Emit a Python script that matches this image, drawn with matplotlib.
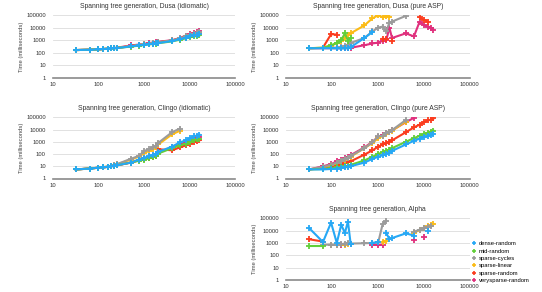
"""Spanning tree generation timings: Dusa / Clingo / Alpha panels."""

import matplotlib

matplotlib.use("Agg")
import matplotlib.pyplot as plt
import numpy as np
from matplotlib.lines import Line2D

nan = np.nan

sizes = [32, 64, 96, 128, 160, 192, 224, 256, 512, 768, 1024, 1280, 1536, 1792,
         2048, 4096, 6144, 8192, 10240, 12288, 14336, 16384]

series_names = ["dense-random", "mid-random", "sparse-cycles", "sparse-linear",
                "sparse-random", "verysparse-random"]
series_colors = ["#26a8f5", "#62cf3a", "#9b9b9b", "#fbbb16", "#fb3c1e", "#e0307d"]

x_ticks = [10, 100, 1000, 10000, 100000]
y_ticks = [1, 10, 100, 1000, 10000, 100000]

dusa_idiomatic = {
    "dense-random": [165, 175, 185, 200, 210, 220, 230, 240, 320, 380, 430, 480, 520, 560,
                     600, 850, 1200, 1600, 2000, 2400, 2700, 3000],
    "mid-random": [165, 175, 185, 200, 210, 220, 230, 240, 310, 370, 420, 460, 500, 540,
                   580, 800, 1100, 1400, 1700, 2000, 2200, 2400],
    "sparse-cycles": [165, 175, 185, 200, 210, 220, 230, 245, 340, 410, 470, 530, 580, 630,
                      680, 950, 1400, 2000, 2700, 3200, 3700, 4200],
    "sparse-linear": [165, 175, 185, 200, 210, 220, 230, 245, 330, 400, 460, 520, 570, 610,
                      650, 900, 1300, 1800, 2400, 2900, 3300, 3800],
    "sparse-random": [165, 175, 185, 200, 210, 220, 235, 250, 340, 410, 470, 530, 580, 630,
                      680, 950, 1350, 1900, 2500, 3000, 3500, 4000],
    "verysparse-random": [165, 175, 185, 200, 210, 225, 240, 255, 380, 450, 520, 590, 650, 700,
                          750, 1000, 1500, 2300, 3000, 3600, 4200, 5000],
}

dusa_pure = {
    "dense-random": [230, 230, 230, 225, 220, 225, 230, 280, 1500, 4500] + [nan] * 12,
    "mid-random": [230, 250, 400, 600, 1000, 3500, 900, 1500] + [nan] * 14,
    "sparse-cycles": [230, 240, 250, 260, 280, 350, 450, 600, 1500, 5000, 10000, 12000,
                      5000, 25000, 30000, 85000] + [nan] * 6,
    "sparse-linear": [230, 260, 350, 600, 900, 1500, 2500, 3500, 15000, 55000, 95000, 65000,
                      85000, 75000] + [nan] * 8,
    "sparse-random": [nan, 260, 3000, 2800, nan, nan, nan, nan, nan, nan, nan, 1300,
                      1200, nan, 800, nan, nan, 65000, 40000, 30000, nan, nan],
    "verysparse-random": [230, 230, 230, 230, 230, 235, 240, 250, 400, 550, 650, 900,
                          1000, 10000, 1500, 3500, 2000, 30000, 15000, 12000, 10000, 7000],
}

clingo_idiomatic = {
    "dense-random": [5.5, 6.5, 7.5, 8, 9, 10, 11, 12, 20, 35, 50, 65, 80, 100,
                     150, 400, 900, 1300, 2000, 2800, 3200, 3800],
    "mid-random": [5.5, 6.5, 7.5, 8, 9, 10, 11, 12, 20, 28, 35, 45, 55, 70,
                   110, 300, 500, 700, 1000, 1300, 1600, 1800],
    "sparse-cycles": [5.5, 6.5, 7.5, 8.5, 9.5, 11, 13, 15, 40, 70, 180, 250, 350, 450,
                      800, 6000, 12000] + [nan] * 5,
    "sparse-linear": [5.5, 6.5, 7.5, 8.5, 9.5, 11, 12, 14, 35, 60, 120, 180, 260, 350,
                      600, 4000, 8000] + [nan] * 5,
    "sparse-random": [5.5, 6.5, 7.5, 8, 9, 10, 11, 12, 20, 30, 40, 50, 60, 70,
                      250, 200, 350, 500, 700, 900, 1100, 1300],
    "verysparse-random": [5.5, 6.5, 7.5, 8, 9, 10, 11, 12, 20, 32, 45, 58, 70, 90,
                          130, 350, 700, 1000, 1500, 2000, 2300, 2700],
}

clingo_pure = {
    "dense-random": [5.5, 5.5, 6, 6.5, 7, 8, 9, 10, 20, 40, 60, 80, 100, 130,
                     180, 600, 1200, 1800, 2500, 3000, 3800, 4500],
    "mid-random": [5.5, 6, 7, 8, 9, 10, 11, 13, 30, 60, 100, 140, 180, 220,
                   300, 1000, 2000, 3000, 4500, 5500, 6500, 8000],
    "sparse-cycles": [5.5, 9, 13, 20, 28, 40, 50, 70, 300, 900, 2800, 3000, 5000, 6000,
                      9000, 60000] + [nan] * 6,
    "sparse-linear": [5.5, 8, 12, 18, 25, 35, 45, 60, 300, 800, 2000, 3000, 4500, 6000,
                      8000, 45000] + [nan] * 6,
    "sparse-random": [5.5, 7, 9, 12, 15, 18, 22, 25, 90, 200, 400, 600, 800, 1000,
                      1300, 6000, 15000, 25000, 40000, 55000, 65000, 80000],
    "verysparse-random": [5.5, 10, 15, 25, 35, 45, 60, 80, 350, 1000, 2500, 3500, 5000, 6500,
                          8500, 40000, 90000] + [nan] * 5,
}

alpha = {
    "dense-random": [16000, 1200, 45000, 1000, 30000, 6500, 55000, 900, nan, 1000, 1200,
                     nan, 6500, 2000, 2500, 6000, 4000, nan, nan, 10000, nan, nan],
    "mid-random": [600, 600] + [nan] * 20,
    "sparse-cycles": [nan, 700, 750, 700, 800, 900, 1000, 900, 950, 1000, 1100, 35000,
                      60000, nan, nan, nan, 8000, 12000, 15000, 20000, 25000, nan],
    "sparse-linear": [nan, nan, 700, 700, nan, 750, 800, nan, nan, nan, nan, 1200,
                      1400, nan, nan, nan, 7000, 11000, 16000, 22000, 28000, 35000],
    "sparse-random": [2000, 1300] + [nan] * 20,
    "verysparse-random": [nan, nan, nan, nan, 700, nan, nan, nan, nan, 700, 700, 750,
                          nan, nan, nan, nan, 1800, nan, 3200, nan, nan, nan],
}

W, H = 542, 292
plt.rcParams["font.family"] = ["Liberation Sans", "DejaVu Sans"]

fig = plt.figure(figsize=(W / 100, H / 100), dpi=100, facecolor="white")


def rect(left, top, right, bottom):
    return [left / W, 1 - bottom / H, (right - left) / W, (bottom - top) / H]


def panel(box, title, data):
    ax = fig.add_axes(rect(*box))
    for name, color in reversed(list(zip(series_names, series_colors))):
        ax.plot(sizes, data[name], color=color, lw=1.5, marker="+", markersize=4,
                markeredgewidth=1.3)
    ax.set_xscale("log")
    ax.set_yscale("log")
    ax.set_xlim(10, 100000)
    ax.set_ylim(1, 100000)
    ax.set_xticks(x_ticks)
    ax.set_xticklabels([str(t) for t in x_ticks])
    ax.set_yticks(y_ticks)
    ax.set_yticklabels([str(t) for t in y_ticks])
    ax.minorticks_off()
    ax.tick_params(length=0, labelsize=4.2, colors="#333333")
    ax.tick_params(axis="y", pad=5)
    ax.tick_params(axis="x", pad=3)
    ax.grid(axis="y", color="#dcdcdc", lw=0.6)
    for side in ("top", "right", "left"):
        ax.spines[side].set_visible(False)
    ax.spines["bottom"].set_color("#8a8a8a")
    ax.spines["bottom"].set_linewidth(1.2)
    ax.set_title(title, fontsize=4.9, color="#333333", pad=5)
    ax.set_ylabel("Time (milliseconds)", fontsize=4.2, color="#444444", labelpad=1.5)
    return ax


panel((52.7, 15, 235.3, 78), "Spanning tree generation, Dusa (idiomatic)", dusa_idiomatic)
panel((286, 15, 469.5, 78), "Spanning tree generation, Dusa (pure ASP)", dusa_pure)
panel((52.7, 117.3, 235.3, 178.5), "Spanning tree generation, Clingo (idiomatic)", clingo_idiomatic)
panel((286, 117.3, 469.5, 178.5), "Spanning tree generation, Clingo (pure ASP)", clingo_pure)
panel((286, 218.3, 469.5, 280), "Spanning tree generation, Alpha", alpha)

handles = [Line2D([], [], color=c, marker="+", linestyle="none", markersize=3,
                  markeredgewidth=1.2) for c in series_colors]
fig.legend(handles, series_names, loc="upper left", bbox_to_anchor=(470 / W, 1 - 239 / H),
           frameon=False, fontsize=4.2, handlelength=0.6, handletextpad=0.5,
           labelspacing=0.38, borderaxespad=0)

fig.savefig("out.png", dpi=100, facecolor="white")
